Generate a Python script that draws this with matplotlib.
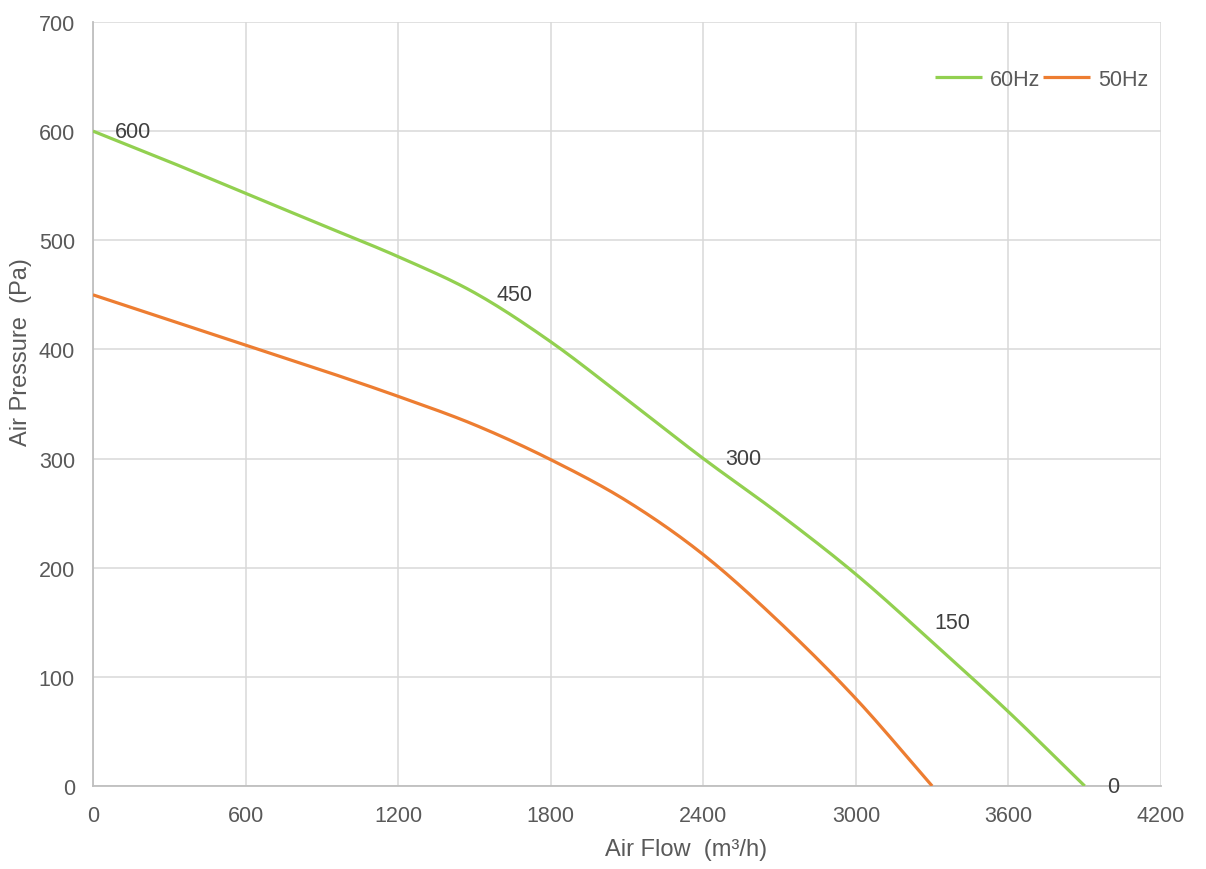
import matplotlib
matplotlib.use("Agg")
import matplotlib.pyplot as plt
import numpy as np

# Data
flow_60 = [0, 300, 600, 900, 1200, 1500, 1800, 2100, 2400, 2700, 3000, 3300, 3600, 3900]
pres_60 = [600, 572, 543, 514, 485, 452, 407, 354, 300, 249, 194, 132, 68, 0]

flow_50 = [0, 300, 600, 900, 1200, 1500, 1800, 2100, 2400, 2700, 3000, 3300]
pres_50 = [450, 427, 404, 381, 357, 331, 299, 261, 212, 150, 80, 0]

label_x = [0, 1500, 2400, 3220, 3900]
label_y = [600, 450, 300, 150, 0]
label_text = ["600", "450", "300", "150", "0"]

x_ticks = [0, 600, 1200, 1800, 2400, 3000, 3600, 4200]
y_ticks = [0, 100, 200, 300, 400, 500, 600, 700]


def smooth_path(xs, ys, steps=20):
    """Catmull-Rom rendering of the data points (like a spreadsheet 'smoothed line')."""
    p = np.column_stack([xs, ys]).astype(float)
    p = np.vstack([p[0] - (p[1] - p[0]), p, p[-1] + (p[-1] - p[-2])])
    out = []
    t = np.linspace(0, 1, steps, endpoint=False)[:, None]
    for i in range(1, len(p) - 2):
        p0, p1, p2, p3 = p[i - 1], p[i], p[i + 1], p[i + 2]
        seg = 0.5 * ((2 * p1) + (-p0 + p2) * t + (2 * p0 - 5 * p1 + 4 * p2 - p3) * t ** 2
                     + (-p0 + 3 * p1 - 3 * p2 + p3) * t ** 3)
        out.append(seg)
    out.append(p[-2][None, :])
    out = np.vstack(out)
    return out[:, 0], out[:, 1]


plt.rcParams['font.family'] = ['Liberation Sans', 'DejaVu Sans']

fig = plt.figure(figsize=(12.06, 8.7), dpi=100)
ax = fig.add_axes([0.0771, 0.0954, 0.8856, 0.8782])

green = '#92d050'
orange = '#ed7d31'
sx, sy = smooth_path(flow_60, pres_60)
ax.plot(sx, sy, color=green, lw=2.3, label='60Hz', solid_capstyle='butt', zorder=3)
sx, sy = smooth_path(flow_50, pres_50)
ax.plot(sx, sy, color=orange, lw=2.3, label='50Hz', solid_capstyle='butt', zorder=3)

for lx, ly, t in zip(label_x, label_y, label_text):
    ax.annotate(t, (lx, ly), xytext=(16, 0), textcoords='offset points',
                ha='left', va='center', fontsize=15.5, color='#404040', zorder=4)

ax.set_xlim(0, 4200)
ax.set_ylim(0, 700)
ax.set_xticks(x_ticks)
ax.set_yticks(y_ticks)
ax.grid(True, color='#d9d9d9', lw=1.1, zorder=0)
ax.set_axisbelow(True)
for s in ['top', 'right']:
    ax.spines[s].set_visible(False)
for s in ['left', 'bottom']:
    ax.spines[s].set_color('#bfbfbf')
    ax.spines[s].set_linewidth(1.3)
ax.tick_params(axis='both', length=0, labelsize=15.5, labelcolor='#595959')
ax.tick_params(axis='x', pad=14)
ax.tick_params(axis='y', pad=13)

ax.set_xlabel('Air Flow  (m³/h)', fontsize=17, color='#595959')
ax.set_ylabel('Air Pressure  (Pa)', fontsize=17, color='#595959')
ax.xaxis.set_label_coords(0.555, -0.0825, transform=ax.transAxes)
ax.yaxis.set_label_coords(-0.0675, 0.569, transform=ax.transAxes)
ax.xaxis.label.set_va('center')
ax.yaxis.label.set_va('center')

leg = ax.legend(loc='center right', bbox_to_anchor=(0.988, 0.925), ncol=2, frameon=False,
                fontsize=15.5, handlelength=2.2, handletextpad=0.35, columnspacing=0.15,
                borderpad=0, borderaxespad=0)
for t in leg.get_texts():
    t.set_color('#595959')

fig.savefig('out.png', dpi=100)
